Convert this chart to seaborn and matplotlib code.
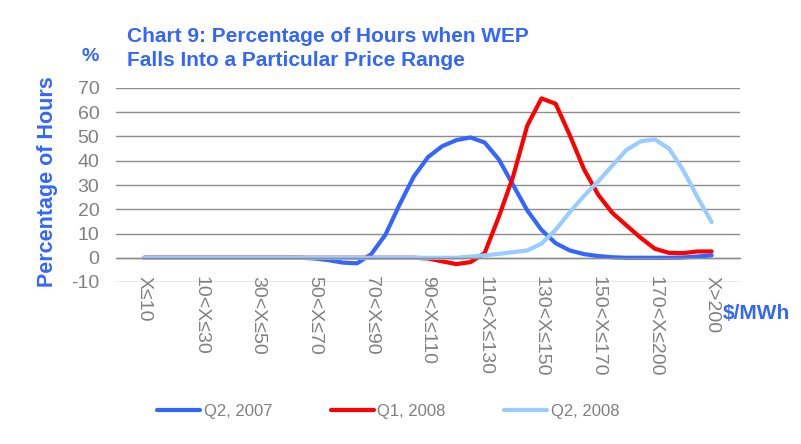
import numpy as np
import pandas as pd
import seaborn as sns
import matplotlib.pyplot as plt
from matplotlib.ticker import FixedLocator

sns.set_style("white")
plt.rcParams["font.family"] = ["Liberation Sans", "DejaVu Sans"]
plt.rcParams["axes.unicode_minus"] = False

# price bands on the category axis
categories = ["X≤10", "10<X≤30", "30<X≤50", "50<X≤70", "70<X≤90", "90<X≤110",
              "110<X≤130", "130<X≤150", "150<X≤170", "170<X≤200", "X>200"]

# curve readings taken every quarter band (41 points, band 0 .. band 10)
positions = [i / 4 for i in range(41)]

q2_2007 = [0, 0, 0, 0, 0, 0, 0, 0, 0, 0, 0, 0,
           -0.3, -1.0, -2.0, -2.3, 1.5, 9.5, 22.0, 33.5, 41.5, 46.0, 48.5, 49.6,
           47.5, 40.5, 30.0, 19.5, 11.5, 6.0, 3.0, 1.5, 0.7, 0.2, 0, 0, 0, 0,
           0.1, 0.5, 1.0]
q1_2008 = [0, 0, 0, 0, 0, 0, 0, 0, 0, 0, 0, 0, 0, 0, 0, 0, 0, 0, 0, 0, -0.3,
           -1.5, -2.6, -1.8, 2.0, 17.0, 33.5, 54.5, 65.7, 63.5, 50.5, 36.5,
           26.0, 18.5, 13.3, 8.2, 3.7, 2.0, 1.9, 2.6, 2.6]
q2_2008 = [0, 0, 0, 0, 0, 0, 0, 0, 0, 0, 0, 0, 0, 0, 0, 0, 0, 0, 0, 0, 0, 0, 0,
           0.5, 1.0, 1.6, 2.3, 3.0, 5.8, 11.5, 18.8, 25.5, 31.5, 38.0, 44.5,
           48.0, 48.8, 45.0, 36.0, 25.0, 14.7]

series_names = ["Q2, 2007", "Q1, 2008", "Q2, 2008"]
colors = ["#3366FF", "#FF0000", "#99CCFF"]

df = pd.concat([
    pd.DataFrame({"pos": positions, "value": vals, "series": name})
    for name, vals in zip(series_names, [q2_2007, q1_2008, q2_2008])
])

blue = "#3366FF"
grey = "#808080"

fig = plt.figure(figsize=(8.01, 4.44), dpi=100)
ax = fig.add_axes([116 / 801, 1 - 282 / 444, 624 / 801, 194 / 444])

sns.lineplot(data=df, x="pos", y="value", hue="series", hue_order=series_names,
             palette=colors, linewidth=3, estimator=None, sort=False,
             legend=False, ax=ax)
for ln in ax.lines:
    ln.set_solid_capstyle("round")
    ln.set_solid_joinstyle("round")

ax.set_xlim(-0.5, 10.5)
ax.set_ylim(-10, 70)
ax.set_yticks(range(-10, 71, 10))
ax.yaxis.grid(True, color="#8c8c8c", linewidth=1)
ax.set_axisbelow(True)

for side in ["left", "right", "top"]:
    ax.spines[side].set_visible(False)
ax.spines["bottom"].set_position(("data", 0))
ax.spines["bottom"].set_color("#8c8c8c")
ax.spines["bottom"].set_linewidth(1)

ax.set_xticks(range(len(categories)))
ax.set_xticklabels(categories, rotation=270, ha="center", va="top")
ax.xaxis.set_minor_locator(FixedLocator([i - 0.5 for i in range(len(categories) + 1)]))
ax.tick_params(axis="x", which="major", length=0, pad=13.5, labelsize=14,
               labelcolor=grey)
ax.tick_params(axis="x", which="minor", length=5, width=1, color="#7a7a7a",
               direction="out")
ax.tick_params(axis="y", length=0, pad=12, labelsize=14, labelcolor=grey)
ax.set_xlabel("")
ax.set_ylabel("")

fig.text(127 / 801, 1 - 27 / 444,
         "Chart 9: Percentage of Hours when WEP\nFalls Into a Particular Price Range",
         color=blue, fontsize=15, fontweight="bold", ha="left", va="top",
         linespacing=1.35)
fig.text(82 / 801, 1 - 48 / 444, "%", color=blue, fontsize=14,
         fontweight="bold", ha="left", va="top")
fig.text(48 / 801, 1 - 182 / 444, "Percentage of Hours", color=blue,
         fontsize=15.5, fontweight="bold", rotation=90, ha="center", va="center")
fig.text(723 / 801, 1 - 313 / 444, "$/MWh", color=blue, fontsize=15,
         fontweight="bold", ha="left", va="center")

leg = fig.legend(ax.lines, series_names, loc="center left",
                 bbox_to_anchor=(157 / 801, 1 - 411 / 444), ncol=3,
                 frameon=False, fontsize=12, handlelength=2.6,
                 handletextpad=0.2, columnspacing=3.5, borderpad=0,
                 borderaxespad=0)
for t in leg.get_texts():
    t.set_color(grey)

fig.savefig("out.png", dpi=100)
